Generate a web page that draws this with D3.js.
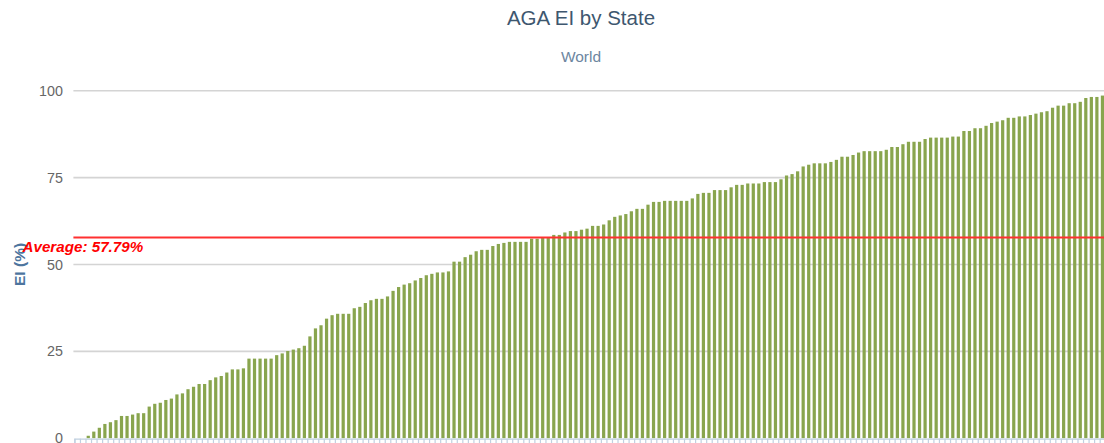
<!DOCTYPE html>
<html>
<head>
<meta charset="utf-8">
<script src="https://cdn.jsdelivr.net/npm/d3@7"></script>
<style>
  html, body { margin: 0; padding: 0; background: #fff; overflow: hidden; }
  svg { display: block; font-family: "Liberation Sans", Arial, Helvetica, sans-serif; }
</style>
</head>
<body>
<svg id="chart" width="1104" height="443"></svg>
<script>
// ---- data (left to right) ----
const values = [
  0, 0, 0.7, 1.9, 3.0, 4.1, 4.6, 5.2, 6.4, 6.4,
  6.8, 7.2, 7.2, 9.1, 9.9, 10.2, 11.0, 11.4, 12.6, 12.9,
  14.1, 14.8, 15.6, 15.6, 16.7, 17.5, 17.9, 18.9, 19.8, 19.8,
  20.1, 22.9, 22.9, 22.9, 22.9, 22.9, 23.9, 24.4, 25.1, 25.5,
  25.9, 26.6, 29.3, 31.6, 32.5, 34.4, 35.4, 35.8, 35.8, 35.8,
  37.4, 37.8, 38.9, 39.7, 40.1, 40.1, 40.8, 42.4, 43.5, 44.2,
  44.6, 45.4, 46.1, 46.9, 47.3, 47.7, 47.7, 48.0, 50.8, 50.8,
  52.1, 52.8, 53.8, 54.2, 54.2, 55.3, 55.9, 56.2, 56.5, 56.5,
  56.5, 56.5, 57.4, 57.4, 57.6, 57.6, 58.5, 58.5, 59.2, 59.6,
  59.6, 60.0, 60.3, 61.1, 61.1, 61.5, 62.7, 63.7, 64.1, 64.5,
  65.3, 66.0, 66.0, 67.2, 68.0, 68.0, 68.3, 68.3, 68.3, 68.3,
  68.3, 69.0, 70.3, 70.6, 70.6, 71.4, 71.4, 71.4, 72.2, 72.9,
  72.9, 73.3, 73.3, 73.3, 73.7, 73.7, 73.7, 74.5, 75.6, 76.0,
  76.8, 78.2, 78.7, 79.1, 79.1, 79.1, 79.5, 80.1, 81.0, 81.0,
  81.5, 82.2, 82.6, 82.6, 82.6, 82.6, 83.0, 83.8, 83.8, 84.6,
  85.3, 85.3, 85.3, 86.1, 86.5, 86.5, 86.5, 86.5, 86.8, 86.8,
  88.4, 88.4, 89.2, 89.2, 89.9, 90.7, 91.1, 91.5, 92.2, 92.2,
  92.6, 92.6, 93.0, 93.4, 93.8, 94.1, 95.1, 95.7, 95.7, 96.4,
  96.4, 96.8, 97.9, 98.2, 98.2, 98.6
];
const categories = values.map((d, i) => "State " + (i + 1));
const yTicks = [0, 25, 50, 75, 100];
const average = 57.79;
const titleText = "AGA EI by State";
const subtitleText = "World";
const yTitle = "EI (%)";
const avgLabel = "Average: 57.79%";

// ---- layout ----
const svg = d3.select("#chart");
const plotLeft = 74.4, plotRight = 1105.2, plotTop = 90.7, plotBottom = 438.2;

const x = d3.scaleBand()
  .domain(categories)
  .range([plotLeft, plotRight])
  .paddingInner(0.42)
  .paddingOuter(0.21);

const xEdges = d3.scaleLinear().domain([0, categories.length]).range([plotLeft, plotRight]);

const y = d3.scaleLinear().domain([0, 100]).range([plotBottom, plotTop]);

// title & subtitle
svg.append("text")
  .attr("x", 581).attr("y", 24.5)
  .attr("text-anchor", "middle")
  .attr("fill", "#3E576F")
  .attr("font-size", 20.5)
  .text(titleText);

svg.append("text")
  .attr("x", 581).attr("y", 62)
  .attr("text-anchor", "middle")
  .attr("fill", "#6D869F")
  .attr("font-size", 15.5)
  .text(subtitleText);

// gridlines
svg.append("g")
  .selectAll("line")
  .data(yTicks.filter(t => t > 0))
  .join("line")
  .attr("x1", plotLeft - 1).attr("x2", 1104 + 10)
  .attr("y1", d => y(d)).attr("y2", d => y(d))
  .attr("stroke", "#d4d4d4")
  .attr("stroke-width", 1.6);

// y axis labels
const yAxis = d3.axisLeft(y).tickValues(yTicks).tickSize(0).tickPadding(0);
const gy = svg.append("g")
  .attr("transform", `translate(${plotLeft - 11.5},0)`)
  .call(yAxis);
gy.select(".domain").remove();
gy.selectAll("text")
  .attr("fill", "#666666")
  .attr("font-size", 14.3)
  .attr("font-family", "'Liberation Sans', Arial, sans-serif");

// y axis title
svg.append("text")
  .attr("transform", `translate(24.5, ${(plotTop + plotBottom) / 2}) rotate(-90)`)
  .attr("text-anchor", "middle")
  .attr("fill", "#4d759e")
  .attr("font-weight", "bold")
  .attr("font-size", 15.5)
  .text(yTitle);

// bars
svg.append("g")
  .selectAll("rect")
  .data(values)
  .join("rect")
  .attr("x", (d, i) => x(categories[i]))
  .attr("width", x.bandwidth())
  .attr("y", d => y(d))
  .attr("height", d => y(0) - y(d))
  .attr("fill", "#89A54E");

// x axis (line + category boundary ticks)
const xAxis = d3.axisBottom(xEdges)
  .tickValues(d3.range(categories.length + 1))
  .tickSize(10)
  .tickFormat("");
const gx = svg.append("g")
  .attr("transform", `translate(0,${plotBottom + 0.5})`)
  .call(xAxis);
gx.select(".domain").attr("stroke", "#C0D0E0").attr("stroke-width", 1.3);
gx.selectAll(".tick line").attr("stroke", "#C0D0E0").attr("stroke-width", 1.2);

// average plot line
svg.append("line")
  .attr("x1", plotLeft - 1).attr("x2", 1104 + 10)
  .attr("y1", y(average)).attr("y2", y(average))
  .attr("stroke", "#ff3030")
  .attr("stroke-width", 2);

svg.append("text")
  .attr("x", 22.5).attr("y", y(average) + 14.5)
  .attr("fill", "#ff0000")
  .attr("font-weight", "bold")
  .attr("font-style", "italic")
  .attr("font-size", 15.2)
  .text(avgLabel);
</script>
</body>
</html>
